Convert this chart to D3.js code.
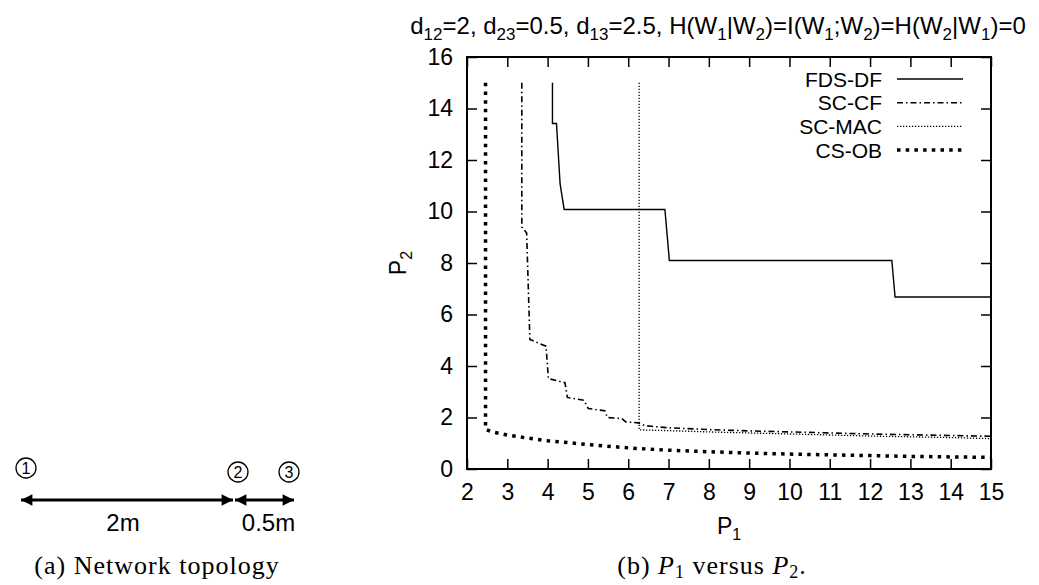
<!DOCTYPE html>
<html>
<head>
<meta charset="utf-8">
<script src="https://cdn.jsdelivr.net/npm/d3@7"></script>
<style>
  html, body { margin: 0; padding: 0; background: #fff; }
  svg { display: block; }
</style>
</head>
<body>
<svg id="fig" width="1039" height="585"></svg>
<script>
// ---- data ----
const p1Ticks = [2, 3, 4, 5, 6, 7, 8, 9, 10, 11, 12, 13, 14, 15];
const p2Ticks = [0, 2, 4, 6, 8, 10, 12, 14, 16];

const seriesNames = ["FDS-DF", "SC-CF", "SC-MAC", "CS-OB"];

const fdsP1 = [4.12, 4.12, 4.22, 4.31, 4.41, 6.91, 7.02, 12.54, 12.62, 15];
const fdsP2 = [15, 13.42, 13.42, 11.07, 10.08, 10.08, 8.1, 8.1, 6.68, 6.68];

const scfP1 = [3.36, 3.36, 3.48, 3.56, 3.96, 4.02, 4.43, 4.49, 4.90, 5.01, 5.42, 5.48, 5.84, 5.94, 6.25, 6.42, 7, 8, 9, 10, 11, 12, 13, 14, 15];
const scfP2 = [15, 9.4, 9.16, 5.03, 4.77, 3.51, 3.35, 2.78, 2.67, 2.35, 2.26, 2.0, 1.96, 1.83, 1.79, 1.68, 1.6, 1.53, 1.48, 1.44, 1.40, 1.36, 1.33, 1.30, 1.27];

const macP1 = [6.27, 6.27, 7, 8, 9, 10, 11, 12, 13, 14, 15];
const macP2 = [15, 1.52, 1.49, 1.44, 1.40, 1.36, 1.32, 1.28, 1.25, 1.22, 1.18];

const obP1 = [2.46, 2.46, 2.6, 3, 3.5, 4, 5, 6, 7, 8, 9, 10, 11, 12, 13, 14, 15];
const obP2 = [15, 1.54, 1.45, 1.32, 1.2, 1.1, 0.95, 0.82, 0.73, 0.67, 0.62, 0.58, 0.55, 0.52, 0.49, 0.47, 0.45];

// topology diagram
const nodeLabels = ["1", "2", "3"];
const linkLabels = ["2m", "0.5m"];

// ---- drawing ----
const svg = d3.select("#fig");
const sans = "'Liberation Sans', Arial, Helvetica, sans-serif";
const serif = "'Liberation Serif', 'DejaVu Serif', serif";

const plot = { left: 467, right: 991, top: 57, bottom: 469 };
const x = d3.scaleLinear().domain([2, 15]).range([plot.left, plot.right]);
const y = d3.scaleLinear().domain([0, 16]).range([plot.bottom, plot.top]);

const fontSize = 23;
const subSize = 16;
const tick = 10;

// axes with inward ticks on all four sides
svg.append("g").attr("transform", `translate(0,${plot.bottom})`)
  .call(d3.axisBottom(x).tickValues(p1Ticks).tickSizeInner(-tick).tickSizeOuter(0).tickPadding(15).tickFormat(d3.format("d")))
  .call(g => g.select(".domain").remove())
  .call(g => g.selectAll("line").attr("stroke", "#000").attr("stroke-width", 1.5))
  .call(g => g.selectAll("text").attr("font-family", sans).attr("font-size", fontSize).attr("fill", "#000"));

svg.append("g").attr("transform", `translate(0,${plot.top})`)
  .call(d3.axisTop(x).tickValues(p1Ticks).tickSizeInner(-tick).tickSizeOuter(0).tickFormat(""))
  .call(g => g.select(".domain").remove())
  .call(g => g.selectAll("line").attr("stroke", "#000").attr("stroke-width", 1.5));

svg.append("g").attr("transform", `translate(${plot.left},0)`)
  .call(d3.axisLeft(y).tickValues(p2Ticks).tickSizeInner(-tick).tickSizeOuter(0).tickPadding(14).tickFormat(d3.format("d")))
  .call(g => g.select(".domain").remove())
  .call(g => g.selectAll("line").attr("stroke", "#000").attr("stroke-width", 1.5))
  .call(g => g.selectAll("text").attr("font-family", sans).attr("font-size", fontSize).attr("fill", "#000"));

svg.append("g").attr("transform", `translate(${plot.right},0)`)
  .call(d3.axisRight(y).tickValues(p2Ticks).tickSizeInner(-tick).tickSizeOuter(0).tickFormat(""))
  .call(g => g.select(".domain").remove())
  .call(g => g.selectAll("line").attr("stroke", "#000").attr("stroke-width", 1.5));

// frame
svg.append("rect")
  .attr("x", plot.left).attr("y", plot.top)
  .attr("width", plot.right - plot.left).attr("height", plot.bottom - plot.top)
  .attr("fill", "none").attr("stroke", "#000").attr("stroke-width", 2);

// series
const styles = {
  "FDS-DF": { width: 1.4, dash: null },
  "SC-CF": { width: 1.6, dash: "6,3,1.5,3" },
  "SC-MAC": { width: 1.3, dash: "1.3,1.7" },
  "CS-OB": { width: 3.5, dash: "3.5,5.2" }
};
const seriesData = [
  { name: "FDS-DF", xs: fdsP1, ys: fdsP2 },
  { name: "SC-CF", xs: scfP1, ys: scfP2 },
  { name: "SC-MAC", xs: macP1, ys: macP2 },
  { name: "CS-OB", xs: obP1, ys: obP2 }
];
const line = d3.line().x(d => x(d[0])).y(d => y(d[1]));

seriesData.forEach(s => {
  const pts = s.xs.map((v, i) => [v, s.ys[i]]);
  const st = styles[s.name];
  svg.append("path")
    .datum(pts)
    .attr("d", line)
    .attr("fill", "none")
    .attr("stroke", "#000")
    .attr("stroke-width", st.width)
    .attr("stroke-dasharray", st.dash)
    .attr("stroke-linejoin", "miter");
});

// legend
const legend = svg.append("g");
const legTextX = 882, legLineX0 = 897, legLineX1 = 963, legY0 = 79, legStep = 23.7;
seriesNames.forEach((n, i) => {
  const yy = legY0 + i * legStep;
  const st = styles[n];
  legend.append("text")
    .attr("x", legTextX).attr("y", yy).attr("dy", "0.36em")
    .attr("text-anchor", "end")
    .attr("font-family", sans).attr("font-size", 21)
    .text(n);
  legend.append("line")
    .attr("x1", legLineX0).attr("x2", legLineX1).attr("y1", yy).attr("y2", yy)
    .attr("stroke", "#000").attr("stroke-width", st.width)
    .attr("stroke-dasharray", st.dash);
});

// title with subscripts
const title = svg.append("text")
  .attr("x", 718).attr("y", 34)
  .attr("text-anchor", "middle")
  .attr("font-family", sans).attr("font-size", 24);
const titleParts = [
  ["d", 0], ["12", 1], ["=2, d", 0], ["23", 1], ["=0.5, d", 0], ["13", 1], ["=2.5, H(W", 0], ["1", 1],
  ["|W", 0], ["2", 1], [")=I(W", 0], ["1", 1], [";W", 0], ["2", 1], [")=H(W", 0], ["2", 1], ["|W", 0], ["1", 1], [")=0", 0]
];
let prevSub = 0;
titleParts.forEach(([t, sub]) => {
  const ts = title.append("tspan").text(t);
  const dy = (sub - prevSub) * 6;
  if (dy !== 0) ts.attr("dy", dy);
  if (sub) ts.attr("font-size", 17);
  prevSub = sub;
});

// axis labels
const xl = svg.append("text")
  .attr("x", (plot.left + plot.right) / 2).attr("y", 534)
  .attr("text-anchor", "middle")
  .attr("font-family", sans).attr("font-size", fontSize);
xl.append("tspan").text("P");
xl.append("tspan").attr("dy", 6).attr("font-size", subSize).text("1");

const yl = svg.append("text")
  .attr("transform", `translate(406,${(plot.top + plot.bottom) / 2}) rotate(-90)`)
  .attr("text-anchor", "middle")
  .attr("font-family", sans).attr("font-size", fontSize);
yl.append("tspan").text("P");
yl.append("tspan").attr("dy", 6).attr("font-size", subSize).text("2");

// caption (b)
const capSize = 26;
const cb = svg.append("text")
  .attr("x", 712).attr("y", 574)
  .attr("text-anchor", "middle")
  .attr("letter-spacing", 1)
  .attr("font-family", serif).attr("font-size", capSize);
cb.append("tspan").text("(b) ");
cb.append("tspan").attr("font-style", "italic").text("P");
cb.append("tspan").attr("dy", 4).attr("font-size", 18).text("1");
cb.append("tspan").attr("dy", -4).text(" versus ");
cb.append("tspan").attr("font-style", "italic").text("P");
cb.append("tspan").attr("dy", 4).attr("font-size", 18).text("2");
cb.append("tspan").attr("dy", -4).text(".");

// ---- topology diagram ----
const defs = svg.append("defs");
["arrowEnd", "arrowStart"].forEach((id, k) => {
  defs.append("marker")
    .attr("id", id)
    .attr("viewBox", "0 0 10 10")
    .attr("refX", k === 0 ? 10 : 0).attr("refY", 5)
    .attr("markerWidth", 4.5).attr("markerHeight", 3.8)
    .attr("markerUnits", "strokeWidth")
    .attr("orient", "auto")
    .append("path")
    .attr("d", k === 0 ? "M0,0 L10,5 L0,10 Z" : "M10,0 L0,5 L10,10 Z")
    .attr("fill", "#000");
});

const nodePos = [[26, 468], [238, 472], [289, 472]];
const arrows = [[21, 233], [235, 294]];
const arrowY = 500;

arrows.forEach((a, i) => {
  svg.append("line")
    .attr("x1", a[0]).attr("x2", a[1]).attr("y1", arrowY).attr("y2", arrowY)
    .attr("stroke", "#000").attr("stroke-width", 3)
    .attr("marker-start", "url(#arrowStart)")
    .attr("marker-end", "url(#arrowEnd)");
  svg.append("text")
    .attr("x", (a[0] + a[1]) / 2 + (i === 0 ? -4 : 4)).attr("y", 531)
    .attr("text-anchor", "middle")
    .attr("font-family", sans).attr("font-size", 24)
    .text(linkLabels[i]);
});

nodeLabels.forEach((lab, i) => {
  const [cx, cy] = nodePos[i];
  svg.append("circle").attr("cx", cx).attr("cy", cy).attr("r", 10)
    .attr("fill", "none").attr("stroke", "#000").attr("stroke-width", 1.3);
  svg.append("text").attr("x", cx).attr("y", cy).attr("dy", "0.36em")
    .attr("text-anchor", "middle")
    .attr("font-family", sans).attr("font-size", 16)
    .text(lab);
});

svg.append("text")
  .attr("x", 157).attr("y", 574)
  .attr("text-anchor", "middle")
  .attr("letter-spacing", 1)
  .attr("font-family", serif).attr("font-size", capSize)
  .text("(a) Network topology");
</script>
</body>
</html>
